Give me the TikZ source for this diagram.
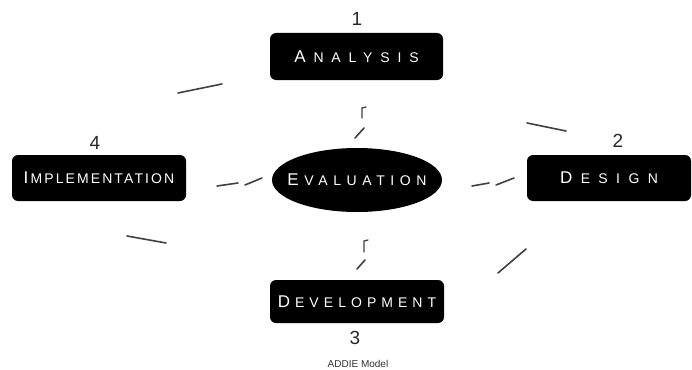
\documentclass[tikz,border=0pt]{standalone}
\usepackage{fontspec}
\setmainfont{Liberation Sans}
\newfontfamily\boxfont{Liberation Sans}
\usetikzlibrary{shapes.geometric}
% #1 letter space (percent), #2 gap after first letter, #3 first letter, #4 rest
\newcommand\sword[4]{\addfontfeature{LetterSpace=#1}{\fontsize{17}{17}\selectfont #3}\kern#2{\fontsize{14}{14}\selectfont #4}}
\tikzset{
  stagebox/.style={fill=black, rounded corners=6pt, text=white, inner sep=0pt, font=\boxfont},
  numlabel/.style={font=\fontsize{19}{19}\selectfont, text=black!85, inner sep=0pt},
  frag/.style={draw=black!75, line width=1.6pt, line cap=round},
}
\begin{document}
\begin{tikzpicture}[x=1pt,y=-1pt]
\useasboundingbox (0,0) rectangle (692,369);
% stages
\node[stagebox, minimum width=173pt, minimum height=47pt] (ana) at (356.5,56.5) {\sword{56}{7.8pt}{A}{NALYSIS}};
\node[stagebox, minimum width=164pt, minimum height=46pt] (des) at (609,178) {\sword{60}{8.4pt}{D}{ESIGN}};
\node[stagebox, minimum width=174pt, minimum height=43pt] (dev) at (357,301.5) {\sword{36}{5pt}{D}{EVELOPMENT}};
\node[stagebox, minimum width=174pt, minimum height=46pt] (imp) at (99,178) {\sword{15}{2.1pt}{I}{MPLEMENTATION}};
\node[fill=black, ellipse, inner sep=0pt, minimum width=170pt, minimum height=64pt] (eva) at (357,180) {};
\node[text=white, inner sep=0pt, font=\boxfont] (evatext) at (eva.center) {\sword{40}{5.6pt}{E}{VALUATION}};
% numbers
\node[numlabel] (n1) at (357,19) {1};
\node[numlabel] (n2) at (618,141) {2};
\node[numlabel] (n3) at (355,338) {3};
\node[numlabel] (n4) at (95,143) {4};
\node[font=\fontsize{10}{10}\selectfont, text=black!80, inner sep=0pt] (title) at (358,364) {ADDIE Model};
% connector fragments
\coordinate (a1) at (178,93);  \coordinate (a2) at (222,84);
\coordinate (b1) at (527,123); \coordinate (b2) at (566,131);
\coordinate (c1) at (127,236); \coordinate (c2) at (166,243);
\coordinate (d1) at (498,273); \coordinate (d2) at (526,249);
\draw[frag] (a1) -- (a2);
\draw[frag] (b1) -- (b2);
\draw[frag] (c1) -- (c2);
\draw[frag] (d1) -- (d2);
\coordinate (e1) at (217,186); \coordinate (e2) at (238,183);
\coordinate (e3) at (245,185); \coordinate (e4) at (262,178);
\draw[frag] (e1) -- (e2); \draw[frag] (e3) -- (e4);
\coordinate (f1) at (472,186); \coordinate (f2) at (489,183);
\coordinate (f3) at (496,185); \coordinate (f4) at (514,178);
\draw[frag] (f1) -- (f2); \draw[frag] (f3) -- (f4);
\coordinate (g1) at (355,138); \coordinate (g2) at (364,128);
\coordinate (g3) at (362,118); \coordinate (g4) at (362,108); \coordinate (g5) at (366,107);
\draw[frag] (g1) -- (g2);
\draw[frag, line width=1.3pt] (g3) -- (g4) -- (g5);
\coordinate (h1) at (357,269); \coordinate (h2) at (365,260);
\coordinate (h3) at (364,252); \coordinate (h4) at (364,241); \coordinate (h5) at (368,240);
\draw[frag] (h1) -- (h2);
\draw[frag, line width=1.3pt] (h3) -- (h4) -- (h5);
\end{tikzpicture}
\end{document}
